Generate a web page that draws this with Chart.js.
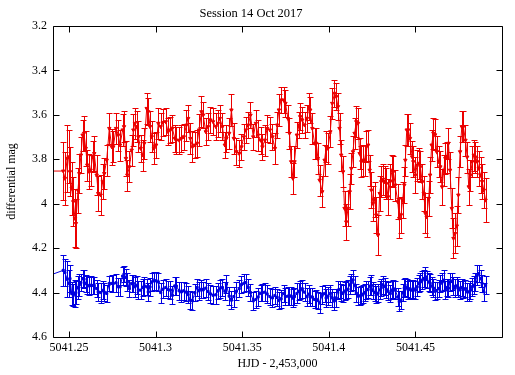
<!DOCTYPE html>
<html>
<head>
<meta charset="utf-8">
<script src="https://cdn.jsdelivr.net/npm/chart.js@4/dist/chart.umd.min.js"></script>
<style>
  html, body { margin: 0; padding: 0; background: #fff; }
  canvas { display: block; }
</style>
</head>
<body>
<canvas id="lc" width="515" height="375"></canvas>
<script>
// HJD - 2,453,000 of each frame
const hjd = [
  5041.2390, 5041.2467, 5041.2477, 5041.2490, 5041.2498, 5041.2506, 5041.2516, 5041.2525, 5041.2535, 5041.2540,
  5041.2552, 5041.2560, 5041.2569, 5041.2579, 5041.2587, 5041.2597, 5041.2606, 5041.2617, 5041.2625, 5041.2637,
  5041.2646, 5041.2660, 5041.2669, 5041.2683, 5041.2695, 5041.2704, 5041.2718, 5041.2733, 5041.2747, 5041.2756,
  5041.2772, 5041.2785, 5041.2795, 5041.2810, 5041.2818, 5041.2829, 5041.2837, 5041.2849, 5041.2862, 5041.2872,
  5041.2881, 5041.2891, 5041.2901, 5041.2914, 5041.2926, 5041.2935, 5041.2949, 5041.2958, 5041.2968, 5041.2978,
  5041.2991, 5041.3003, 5041.3016, 5041.3030, 5041.3043, 5041.3059, 5041.3072, 5041.3086, 5041.3097, 5041.3111,
  5041.3120, 5041.3136, 5041.3149, 5041.3163, 5041.3178, 5041.3188, 5041.3201, 5041.3213, 5041.3227, 5041.3240,
  5041.3251, 5041.3265, 5041.3275, 5041.3290, 5041.3303, 5041.3317, 5041.3332, 5041.3348, 5041.3361, 5041.3371,
  5041.3386, 5041.3400, 5041.3409, 5041.3425, 5041.3438, 5041.3452, 5041.3467, 5041.3483, 5041.3496, 5041.3510,
  5041.3521, 5041.3535, 5041.3548, 5041.3564, 5041.3579, 5041.3592, 5041.3606, 5041.3617, 5041.3631, 5041.3644,
  5041.3660, 5041.3675, 5041.3689, 5041.3702, 5041.3712, 5041.3725, 5041.3739, 5041.3750, 5041.3764, 5041.3773,
  5041.3783, 5041.3793, 5041.3802, 5041.3816, 5041.3828, 5041.3835, 5041.3847, 5041.3860, 5041.3874, 5041.3885,
  5041.3893, 5041.3905, 5041.3918, 5041.3928, 5041.3937, 5041.3947, 5041.3962, 5041.3976, 5041.3985, 5041.3995,
  5041.4009, 5041.4020, 5041.4033, 5041.4043, 5041.4053, 5041.4062, 5041.4072, 5041.4082, 5041.4091, 5041.4101,
  5041.4111, 5041.4120, 5041.4130, 5041.4140, 5041.4149, 5041.4159, 5041.4169, 5041.4178, 5041.4188, 5041.4198,
  5041.4207, 5041.4217, 5041.4227, 5041.4236, 5041.4246, 5041.4255, 5041.4265, 5041.4274, 5041.4284, 5041.4294,
  5041.4303, 5041.4313, 5041.4322, 5041.4332, 5041.4342, 5041.4355, 5041.4365, 5041.4373, 5041.4384, 5041.4398,
  5041.4407, 5041.4417, 5041.4426, 5041.4436, 5041.4442, 5041.4450, 5041.4459, 5041.4469, 5041.4481, 5041.4488,
  5041.4500, 5041.4510, 5041.4519, 5041.4529, 5041.4539, 5041.4548, 5041.4558, 5041.4565, 5041.4577, 5041.4585,
  5041.4594, 5041.4604, 5041.4614, 5041.4623, 5041.4635, 5041.4644, 5041.4654, 5041.4664, 5041.4673, 5041.4681,
  5041.4691, 5041.4700, 5041.4710, 5041.4720, 5041.4729, 5041.4739, 5041.4748, 5041.4758, 5041.4768, 5041.4777,
  5041.4789, 5041.4799, 5041.4808, 5041.4818, 5041.4828, 5041.4837, 5041.4847, 5041.4857, 5041.4866, 5041.4876,
  5041.4885, 5041.4895, 5041.4905
];

// target (red) differential magnitude and error
const targetMag = [
  3.853,
  3.853, 3.886, 3.796, 3.789, 3.856, 3.931, 3.991, 4.066, 4.089, 3.940,
  3.864, 3.781, 3.691, 3.683, 3.751, 3.826, 3.856, 3.849, 3.789, 3.774,
  3.871, 3.954, 3.961, 3.901, 3.864, 3.804, 3.661, 3.744, 3.744, 3.661,
  3.691, 3.736, 3.668, 3.653, 3.796, 3.871, 3.834, 3.759, 3.668, 3.638,
  3.653, 3.699, 3.751, 3.781, 3.728, 3.571, 3.586, 3.653, 3.699, 3.751,
  3.736, 3.638, 3.653, 3.634, 3.631, 3.676, 3.668, 3.660, 3.706, 3.714,
  3.714, 3.706, 3.699, 3.646, 3.616, 3.706, 3.744, 3.736, 3.728, 3.668,
  3.586, 3.601, 3.676, 3.653, 3.623, 3.631, 3.653, 3.638, 3.616, 3.653,
  3.736, 3.706, 3.683, 3.578, 3.706, 3.766, 3.774, 3.744, 3.699, 3.668,
  3.646, 3.601, 3.699, 3.638, 3.691, 3.714, 3.744, 3.714, 3.661, 3.668,
  3.699, 3.751, 3.646, 3.578, 3.533, 3.533, 3.548, 3.616, 3.683, 3.811,
  3.886, 3.811, 3.691, 3.646, 3.608, 3.623, 3.646, 3.616, 3.563, 3.578,
  3.661, 3.728, 3.728, 3.796, 3.894, 3.946, 3.804, 3.744, 3.751, 3.676,
  3.548, 3.503, 3.518, 3.563, 3.661, 3.781, 3.856, 4.021, 4.082, 4.021,
  3.946, 3.841, 3.766, 3.683, 3.631, 3.638, 3.774, 3.811, 3.804, 3.804,
  3.744, 3.736, 3.849, 3.939, 3.999, 3.980, 4.051, 4.141, 3.954, 3.901,
  3.890, 3.900, 3.910, 3.969, 3.900, 3.849, 3.856, 3.916, 3.991, 4.066,
  4.050, 3.984, 3.916, 3.804, 3.668, 3.668, 3.706, 3.789, 3.811, 3.871,
  3.826, 3.818, 3.834, 3.901, 3.954, 4.044, 4.060, 3.976, 3.871, 3.736,
  3.683, 3.690, 3.766, 3.811, 3.834, 3.924, 3.849, 3.796, 3.790, 3.728,
  3.849, 4.021, 4.156, 4.134, 4.100, 3.961, 3.766, 3.653, 3.653, 3.714,
  3.790, 3.924, 3.871, 3.811, 3.781, 3.790, 3.811, 3.841, 3.871, 3.900,
  3.939, 3.984
];
const targetErr = [
  0.13,
  0.13, 0.12, 0.15, 0.12, 0.11, 0.12, 0.11, 0.13, 0.11, 0.10,
  0.09, 0.08, 0.07, 0.08, 0.08, 0.07, 0.08, 0.07, 0.07, 0.08,
  0.09, 0.08, 0.09, 0.08, 0.07, 0.07, 0.07, 0.08, 0.07, 0.07,
  0.07, 0.07, 0.07, 0.07, 0.08, 0.07, 0.07, 0.07, 0.07, 0.07,
  0.07, 0.07, 0.06, 0.07, 0.07, 0.07, 0.06, 0.07, 0.07, 0.07,
  0.06, 0.07, 0.06, 0.06, 0.06, 0.06, 0.06, 0.06, 0.06, 0.06,
  0.06, 0.06, 0.06, 0.07, 0.06, 0.07, 0.07, 0.06, 0.06, 0.07,
  0.07, 0.06, 0.06, 0.06, 0.06, 0.06, 0.06, 0.06, 0.06, 0.06,
  0.06, 0.06, 0.07, 0.07, 0.07, 0.06, 0.06, 0.06, 0.06, 0.06,
  0.06, 0.06, 0.06, 0.06, 0.07, 0.06, 0.06, 0.07, 0.06, 0.06,
  0.06, 0.07, 0.06, 0.07, 0.06, 0.06, 0.06, 0.06, 0.07, 0.07,
  0.07, 0.07, 0.06, 0.06, 0.06, 0.06, 0.06, 0.06, 0.06, 0.06,
  0.07, 0.07, 0.07, 0.07, 0.07, 0.07, 0.07, 0.07, 0.07, 0.07,
  0.07, 0.06, 0.06, 0.06, 0.07, 0.07, 0.07, 0.08, 0.08, 0.08,
  0.08, 0.07, 0.07, 0.07, 0.07, 0.07, 0.07, 0.07, 0.07, 0.07,
  0.07, 0.07, 0.07, 0.08, 0.08, 0.08, 0.08, 0.09, 0.08, 0.07,
  0.07, 0.07, 0.07, 0.08, 0.08, 0.07, 0.07, 0.07, 0.08, 0.09,
  0.08, 0.08, 0.08, 0.07, 0.07, 0.07, 0.07, 0.07, 0.07, 0.08,
  0.07, 0.07, 0.07, 0.08, 0.08, 0.09, 0.09, 0.08, 0.08, 0.07,
  0.07, 0.07, 0.07, 0.07, 0.07, 0.08, 0.07, 0.07, 0.07, 0.07,
  0.08, 0.09, 0.09, 0.09, 0.09, 0.08, 0.07, 0.07, 0.07, 0.07,
  0.07, 0.08, 0.07, 0.07, 0.07, 0.07, 0.07, 0.08, 0.08, 0.08,
  0.08, 0.10
];

// check star (blue) differential magnitude and error
const checkMag = [
  4.322,
  4.300, 4.310, 4.340, 4.360, 4.337, 4.404, 4.412, 4.404, 4.400, 4.377,
  4.365, 4.355, 4.337, 4.340, 4.359, 4.367, 4.370, 4.367, 4.368, 4.368,
  4.382, 4.397, 4.400, 4.390, 4.398, 4.404, 4.359, 4.359, 4.359, 4.356,
  4.374, 4.374, 4.326, 4.317, 4.332, 4.352, 4.382, 4.359, 4.359, 4.374,
  4.367, 4.389, 4.389, 4.377, 4.370, 4.374, 4.397, 4.374, 4.352, 4.347,
  4.347, 4.352, 4.400, 4.385, 4.377, 4.386, 4.389, 4.412, 4.370, 4.371,
  4.392, 4.397, 4.392, 4.398, 4.409, 4.434, 4.437, 4.400, 4.377, 4.392,
  4.385, 4.388, 4.380, 4.395, 4.406, 4.412, 4.410, 4.392, 4.383, 4.377,
  4.394, 4.362, 4.416, 4.434, 4.418, 4.394, 4.382, 4.364, 4.358, 4.355,
  4.377, 4.400, 4.437, 4.431, 4.420, 4.403, 4.400, 4.398, 4.406, 4.418,
  4.424, 4.413, 4.422, 4.436, 4.428, 4.404, 4.418, 4.416, 4.415, 4.416,
  4.425, 4.418, 4.404, 4.395, 4.389, 4.383, 4.398, 4.419, 4.407, 4.419,
  4.420, 4.431, 4.430, 4.436, 4.446, 4.412, 4.404, 4.424, 4.416, 4.404,
  4.424, 4.437, 4.424, 4.389, 4.386, 4.400, 4.404, 4.394, 4.389, 4.385,
  4.365, 4.355, 4.343, 4.367, 4.403, 4.416, 4.415, 4.412, 4.407, 4.400,
  4.388, 4.386, 4.371, 4.368, 4.391, 4.400, 4.409, 4.403, 4.388, 4.377,
  4.365, 4.373, 4.386, 4.394, 4.404, 4.389, 4.383, 4.389, 4.420, 4.440,
  4.434, 4.400, 4.380, 4.374, 4.380, 4.388, 4.383, 4.389, 4.383, 4.389,
  4.374, 4.359, 4.352, 4.344, 4.337, 4.329, 4.341, 4.352, 4.358, 4.371,
  4.380, 4.394, 4.391, 4.382, 4.359, 4.352, 4.344, 4.389, 4.377, 4.380,
  4.352, 4.350, 4.371, 4.380, 4.370, 4.379, 4.388, 4.377, 4.386, 4.382,
  4.397, 4.397, 4.389, 4.374, 4.367, 4.352, 4.322, 4.314, 4.337, 4.359,
  4.397, 4.367
];
const checkErr = [
  0.05,
  0.07, 0.06, 0.08, 0.06, 0.06, 0.05, 0.05, 0.06, 0.05, 0.05,
  0.05, 0.04, 0.04, 0.04, 0.04, 0.04, 0.04, 0.04, 0.04, 0.04,
  0.04, 0.04, 0.045, 0.04, 0.04, 0.04, 0.035, 0.04, 0.04, 0.04,
  0.04, 0.04, 0.04, 0.035, 0.04, 0.04, 0.04, 0.04, 0.04, 0.045,
  0.04, 0.04, 0.04, 0.04, 0.04, 0.035, 0.04, 0.04, 0.04, 0.04,
  0.04, 0.04, 0.045, 0.04, 0.04, 0.04, 0.04, 0.04, 0.04, 0.04,
  0.04, 0.045, 0.04, 0.04, 0.04, 0.04, 0.04, 0.04, 0.04, 0.04,
  0.04, 0.035, 0.04, 0.04, 0.04, 0.04, 0.04, 0.035, 0.04, 0.04,
  0.04, 0.04, 0.04, 0.04, 0.045, 0.04, 0.04, 0.04, 0.04, 0.04,
  0.04, 0.04, 0.04, 0.04, 0.04, 0.035, 0.04, 0.04, 0.04, 0.04,
  0.04, 0.04, 0.04, 0.04, 0.04, 0.04, 0.04, 0.04, 0.04, 0.04,
  0.04, 0.04, 0.045, 0.04, 0.04, 0.04, 0.04, 0.04, 0.04, 0.04,
  0.04, 0.04, 0.04, 0.04, 0.045, 0.04, 0.04, 0.04, 0.04, 0.04,
  0.04, 0.04, 0.04, 0.04, 0.04, 0.04, 0.04, 0.04, 0.04, 0.04,
  0.04, 0.04, 0.045, 0.04, 0.04, 0.04, 0.04, 0.04, 0.04, 0.04,
  0.04, 0.04, 0.04, 0.045, 0.04, 0.04, 0.04, 0.04, 0.04, 0.04,
  0.04, 0.04, 0.04, 0.04, 0.04, 0.04, 0.04, 0.04, 0.04, 0.045,
  0.04, 0.04, 0.04, 0.04, 0.04, 0.04, 0.04, 0.04, 0.04, 0.04,
  0.04, 0.04, 0.04, 0.04, 0.04, 0.045, 0.04, 0.04, 0.04, 0.04,
  0.04, 0.04, 0.04, 0.04, 0.04, 0.04, 0.045, 0.04, 0.04, 0.04,
  0.04, 0.04, 0.04, 0.04, 0.04, 0.04, 0.04, 0.04, 0.04, 0.04,
  0.04, 0.04, 0.04, 0.04, 0.04, 0.04, 0.045, 0.04, 0.04, 0.04,
  0.04, 0.04
];

const xTicks = [5041.25, 5041.3, 5041.35, 5041.4, 5041.45];
const xTickLabels = ['5041.25', '5041.3', '5041.35', '5041.4', '5041.45'];
const yTicks = [3.2, 3.4, 3.6, 3.8, 4.0, 4.2, 4.4, 4.6];
const yTickLabels = ['3.2', '3.4', '3.6', '3.8', '4', '4.2', '4.4', '4.6'];

const serif = "'Liberation Serif', 'Times New Roman', serif";
const red = 'rgb(235,0,0)';
const blue = 'rgb(0,0,225)';

// error bars drawn under the points
const errorBars = {
  id: 'errorBars',
  beforeDatasetsDraw(chart) {
    const { ctx, chartArea: a, scales: { x, y } } = chart;
    ctx.save();
    ctx.beginPath();
    ctx.rect(a.left, a.top, a.right - a.left, a.bottom - a.top);
    ctx.clip();
    ctx.lineWidth = 1;
    chart.data.datasets.forEach(ds => {
      ctx.strokeStyle = ds.errColor;
      ctx.beginPath();
      ds.data.forEach((p, i) => {
        const px = Math.round(x.getPixelForValue(p.x)) + 0.5;
        const y1 = Math.round(y.getPixelForValue(p.y - ds.errors[i])) + 0.5;
        const y2 = Math.round(y.getPixelForValue(p.y + ds.errors[i])) + 0.5;
        ctx.moveTo(px, y1); ctx.lineTo(px, y2);
        ctx.moveTo(px - 3, y1); ctx.lineTo(px + 3, y1);
        ctx.moveTo(px - 3, y2); ctx.lineTo(px + 3, y2);
      });
      ctx.stroke();
    });
    ctx.restore();
  }
};

// box with inward ticks on all four sides
const frame = {
  id: 'frame',
  afterDraw(chart) {
    const { ctx, chartArea: a, scales: { x, y } } = chart;
    const L = Math.round(a.left) + 0.5, R = Math.round(a.right) + 0.5;
    const T = Math.round(a.top) + 0.5, B = Math.round(a.bottom) + 0.5;
    ctx.save();
    ctx.strokeStyle = '#000';
    ctx.lineWidth = 1;
    ctx.beginPath();
    ctx.rect(L, T, R - L, B - T);
    xTicks.forEach(v => {
      const px = Math.round(x.getPixelForValue(v)) + 0.5;
      ctx.moveTo(px, B); ctx.lineTo(px, B - 6);
      ctx.moveTo(px, T); ctx.lineTo(px, T + 6);
    });
    yTicks.forEach(v => {
      const py = Math.round(y.getPixelForValue(v)) + 0.5;
      ctx.moveTo(L, py); ctx.lineTo(L + 6, py);
      ctx.moveTo(R, py); ctx.lineTo(R - 6, py);
    });
    ctx.stroke();
    ctx.restore();
  }
};

new Chart(document.getElementById('lc'), {
  type: 'scatter',
  data: {
    datasets: [
      {
        label: 'target',
        data: hjd.map((t, i) => ({ x: t, y: targetMag[i] })),
        errors: targetErr,
        errColor: red,
        showLine: true,
        borderColor: red,
        backgroundColor: red,
        borderWidth: 1,
        pointStyle: 'triangle',
        rotation: 180,
        pointRadius: 2,
        pointBorderWidth: 1
      },
      {
        label: 'check',
        data: hjd.map((t, i) => ({ x: t, y: checkMag[i] })),
        errors: checkErr,
        errColor: blue,
        showLine: true,
        borderColor: blue,
        backgroundColor: blue,
        borderWidth: 1,
        pointStyle: 'rect',
        pointRadius: 1.5,
        pointBorderWidth: 1
      }
    ]
  },
  options: {
    responsive: false,
    animation: false,
    events: [],
    layout: { padding: { left: 0, right: 13, top: 0, bottom: 0 } },
    plugins: {
      legend: { display: false },
      tooltip: { enabled: false },
      title: {
        display: true,
        text: 'Session 14 Oct 2017',
        color: '#000',
        font: { family: serif, size: 12.5, weight: 'normal' },
        padding: { top: 6, bottom: 5 }
      }
    },
    scales: {
      x: {
        type: 'linear',
        min: 5041.2408,
        max: 5041.5,
        afterBuildTicks: s => { s.ticks = xTicks.map(v => ({ value: v })); },
        afterFit: s => { s.height = 38; },
        grid: { display: false, drawTicks: false },
        border: { display: false },
        ticks: {
          color: '#000',
          padding: 4,
          maxRotation: 0,
          font: { family: serif, size: 12 },
          callback: (v, i) => xTickLabels[i]
        },
        title: {
          display: true,
          text: 'HJD - 2,453,000',
          color: '#000',
          font: { family: serif, size: 12 },
          padding: { top: 0, bottom: 4 }
        }
      },
      y: {
        reverse: true,
        min: 3.2,
        max: 4.6,
        afterBuildTicks: s => { s.ticks = yTicks.map(v => ({ value: v })); },
        afterFit: s => { s.width = 53; },
        grid: { display: false, drawTicks: false },
        border: { display: false },
        ticks: {
          color: '#000',
          padding: 6,
          font: { family: serif, size: 12 },
          callback: (v, i) => yTickLabels[i]
        },
        title: {
          display: true,
          text: 'differential mag',
          color: '#000',
          font: { family: serif, size: 12 },
          padding: 5
        }
      }
    }
  },
  plugins: [errorBars, frame]
});
</script>
</body>
</html>
